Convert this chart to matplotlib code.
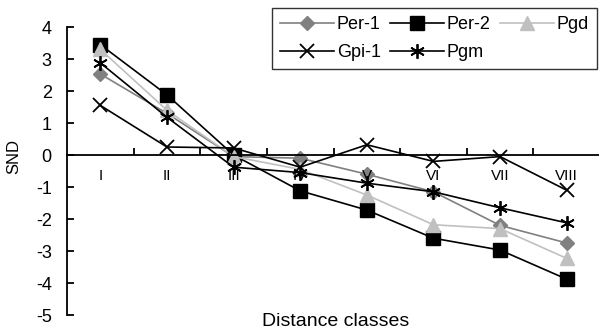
import matplotlib
matplotlib.use("Agg")
import numpy as np
from matplotlib import pyplot as plt

plt.rcParams['font.family'] = ['Liberation Sans', 'DejaVu Sans']
plt.rcParams['axes.unicode_minus'] = False

classes = ["I", "II", "III", "IV", "V", "VI", "VII", "VIII"]

per1 = [2.53, 1.3, -0.05, -0.1, -0.6, -1.15, -2.2, -2.75]
per2 = [3.45, 1.88, 0.0, -1.12, -1.72, -2.6, -2.97, -3.88]
pgd  = [3.3, 1.4, -0.05, -0.45, -1.25, -2.18, -2.3, -3.23]
gpi1 = [1.55, 0.25, 0.22, -0.38, 0.32, -0.2, -0.05, -1.1]
pgm  = [2.88, 1.18, -0.38, -0.55, -0.88, -1.15, -1.65, -2.12]

def main():

    fig = plt.figure( figsize=(5.99, 3.31), dpi=100 )
    ax = fig.add_axes( [67/599, 1 - 315/331, 533/599, 288/331] )

    x = np.arange( 1, len(classes) + 1 )

    h1, = ax.plot( x, per1, color='#808080', lw=1.2, marker='D', ms=7, label='Per-1' )
    h2, = ax.plot( x, per2, color='black', lw=1.2, marker='s', ms=9.5, label='Per-2' )
    h3, = ax.plot( x, pgd, color='#c0c0c0', lw=1.2, marker='^', ms=9.5, label='Pgd' )
    h4, = ax.plot( x, gpi1, color='black', lw=1.2, marker='x', ms=9.5, mew=1.3, label='Gpi-1' )
    h5, = ax.plot( x, pgm, color='black', lw=1.2, marker=(6, 2, 0), ms=10.5, mew=1.3, label='Pgm' )

    ax.set_xlim( 0.5, 8.5 )
    ax.set_ylim( -5, 4 )

    # x軸をy=0に置く
    ax.spines['bottom'].set_position( ('data', 0) )
    ax.spines['top'].set_visible( False )
    ax.spines['right'].set_visible( False )
    for s in ['bottom', 'left']:
        ax.spines[s].set_linewidth( 1.3 )

    ax.set_yticks( range(-5, 5) )
    ax.tick_params( axis='y', direction='in', length=5, width=1.3, labelsize=13, pad=11 )

    ax.set_xticks( np.arange( 1.5, 8.5, 1 ) )
    ax.set_xticklabels( [] )
    ax.tick_params( axis='x', direction='in', length=5, width=1.3 )
    for xi, lab in zip( x, classes ):
        ax.text( xi, -0.65, lab, ha='center', va='center', fontsize=11 )

    fig.text( 336/599, 1 - 321/331, "Distance classes", ha='center', va='center', fontsize=14 )
    fig.text( 14/599, 1 - 156/331, "SND", ha='center', va='center', rotation=90, fontsize=12 )

    # 凡例は行ごとに並べる
    handles = [h1, h4, h2, h5, h3]
    leg = ax.legend( handles=handles, labels=[h.get_label() for h in handles],
                     ncol=3, loc='upper right', bbox_to_anchor=(597/599, 1 - 8/331),
                     bbox_transform=fig.transFigure, fontsize=13, frameon=True,
                     fancybox=False, edgecolor='black', handlelength=3.0,
                     columnspacing=0.5, handletextpad=0.15, borderpad=0.45,
                     labelspacing=0.6, borderaxespad=0 )
    leg.get_frame().set_linewidth( 1.0 )

    fig.savefig( "out.png", dpi=100 )

if __name__ == "__main__":
    main()
